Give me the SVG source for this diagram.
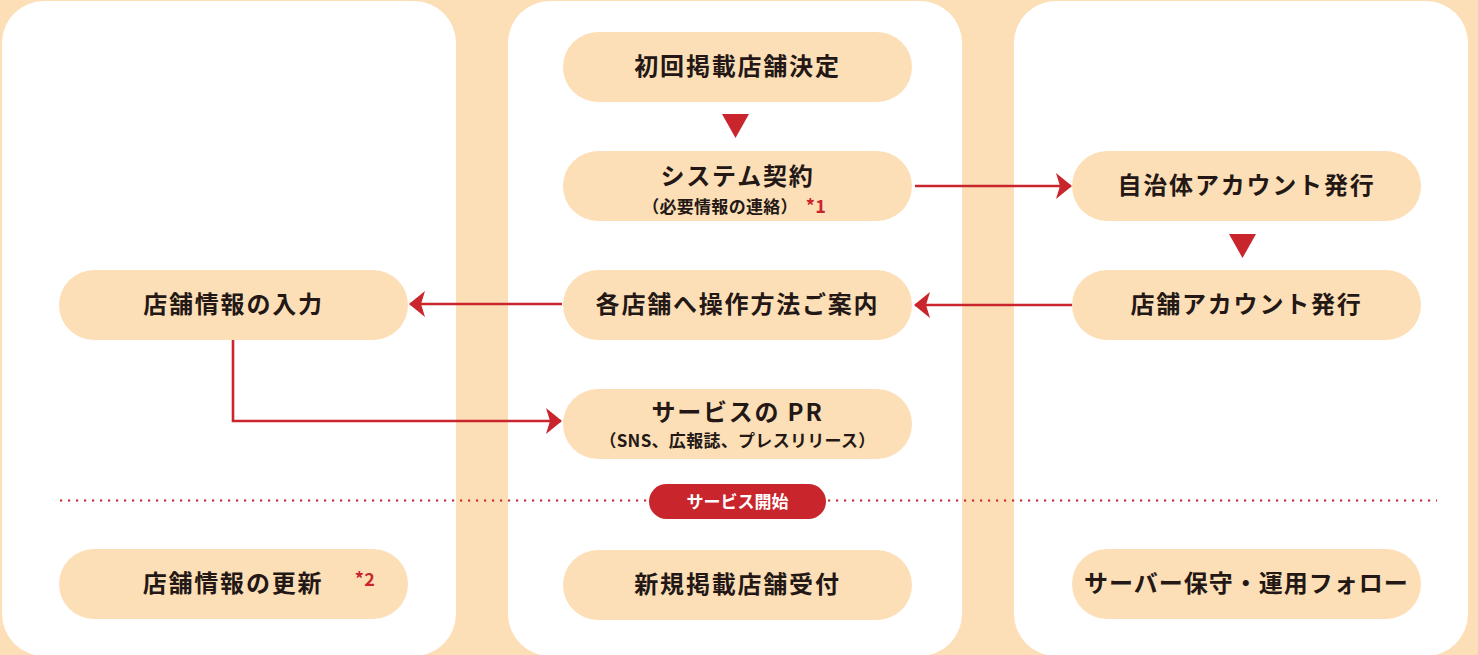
<svg xmlns="http://www.w3.org/2000/svg" width="1478" height="655" viewBox="0 0 1478 655">
<style>
.panel{fill:#ffffff}
.pill{fill:#FDDFB7}
.t{font-family:"Noto Sans CJK JP","Noto Sans",sans-serif;font-weight:700;fill:#231815;text-anchor:middle;dominant-baseline:central}
.main{font-size:24px;letter-spacing:1.8px}
.sub{font-size:17px;letter-spacing:0.3px}
.red{fill:#C9252C}
.conn{fill:none;stroke:#C9252C;stroke-width:2.6}
</style>
<defs>
<marker id="ah" markerUnits="userSpaceOnUse" markerWidth="16" markerHeight="26" viewBox="0 0 16 26" refX="15" refY="13" orient="auto">
<path d="M0,0 L16,13 L0,26 L4,13 Z" fill="#C9252C"/>
</marker>
</defs>
<rect x="0" y="0" width="1478" height="655" fill="#FDDFB7"/>
<g id="panels">
<rect class="panel" x="2" y="1" width="454" height="655" rx="42"/>
<rect class="panel" x="508" y="1" width="454" height="655" rx="42"/>
<rect class="panel" x="1014" y="1" width="454" height="655" rx="42"/>
</g>
<g id="divider">
<line x1="60" y1="500.5" x2="1437" y2="500.5" stroke="#C9252C" stroke-width="2.2" stroke-dasharray="2.2 5.8"/>
</g>
<g id="connectors">
<path class="conn" d="M915,186 H1071" marker-end="url(#ah)"/>
<path class="conn" d="M1072,305 H915" marker-end="url(#ah)"/>
<path class="conn" d="M562,304 H410" marker-end="url(#ah)"/>
<path class="conn" d="M233,340 V421 H561" marker-end="url(#ah)"/>
<polygon class="red" points="722,114 749,114 735.5,138"/>
<polygon class="red" points="1229,234 1256,234 1242.5,258"/>
</g>
<g id="n1">
<rect class="pill" x="563" y="32" width="349" height="70" rx="35"/>
<text class="t main" x="737.5" y="64">初回掲載店舗決定</text>
</g>
<g id="n2">
<rect class="pill" x="563" y="151" width="349" height="70" rx="35"/>
<text class="t main" x="737.5" y="174">システム契約</text>
<text class="t sub" x="720" y="205">（必要情報の連絡）</text>
<text class="t sub red" x="816" y="205" style="font-size:18px">*1</text>
</g>
<g id="n3">
<rect class="pill" x="1072" y="151" width="349" height="70" rx="35"/>
<text class="t main" x="1246.5" y="183">自治体アカウント発行</text>
</g>
<g id="n4">
<rect class="pill" x="1072" y="270" width="349" height="70" rx="35"/>
<text class="t main" x="1246.5" y="302">店舗アカウント発行</text>
</g>
<g id="n5">
<rect class="pill" x="563" y="270" width="349" height="70" rx="35"/>
<text class="t main" x="737.5" y="302">各店舗へ操作方法ご案内</text>
</g>
<g id="n6">
<rect class="pill" x="59" y="270" width="349" height="70" rx="35"/>
<text class="t main" x="233.5" y="302">店舗情報の入力</text>
</g>
<g id="n7">
<rect class="pill" x="563" y="389" width="349" height="70" rx="35"/>
<text class="t main" x="737.5" y="410">サービスの PR</text>
<text class="t sub" x="737.5" y="439">（SNS、広報誌、プレスリリース）</text>
</g>
<g id="badge">
<rect x="649" y="484" width="177" height="35" rx="17.5" fill="#C9252C"/>
<text class="t" x="737.5" y="500" style="font-size:17px;fill:#ffffff">サービス開始</text>
</g>
<g id="n8">
<rect class="pill" x="59" y="549" width="349" height="70" rx="35"/>
<text class="t main" x="233" y="581">店舗情報の更新</text>
<text class="t sub red" x="365" y="578" style="font-size:18px">*2</text>
</g>
<g id="n9">
<rect class="pill" x="563" y="550" width="349" height="70" rx="35"/>
<text class="t main" x="737.5" y="582">新規掲載店舗受付</text>
</g>
<g id="n10">
<rect class="pill" x="1072" y="549" width="349" height="70" rx="35"/>
<text class="t main" x="1246.5" y="581" style="letter-spacing:1px">サーバー保守・運用フォロー</text>
</g>
</svg>
